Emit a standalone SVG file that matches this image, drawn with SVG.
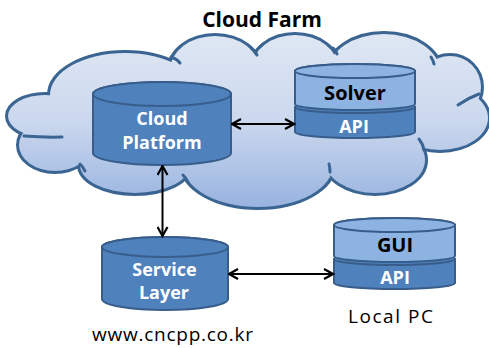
<svg xmlns="http://www.w3.org/2000/svg" width="489" height="348" viewBox="0 0 489 348">
  <defs>
    <linearGradient id="cloudFill" gradientUnits="userSpaceOnUse" x1="0" y1="33" x2="0" y2="208">
      <stop offset="0" stop-color="#dfe7f3"/>
      <stop offset="0.5" stop-color="#cbd8ee"/>
      <stop offset="1" stop-color="#98b3df"/>
    </linearGradient>
    <marker id="arrow" viewBox="0 0 12 12" refX="10.5" refY="6" markerWidth="12" markerHeight="12" markerUnits="userSpaceOnUse" orient="auto-start-reverse">
      <path d="M1.5,1 L10.5,6 L1.5,11" fill="none" stroke="#000" stroke-width="2.2" stroke-linejoin="miter"/>
    </marker>
    <!-- lobes of the cloud outline -->
    <g id="lobes">
      <ellipse cx="125" cy="95" rx="75" ry="42"/>
      <ellipse cx="215" cy="70" rx="45" ry="34"/>
      <ellipse cx="295" cy="68" rx="43" ry="33"/>
      <ellipse cx="384" cy="72" rx="56" ry="38"/>
      <ellipse cx="450" cy="87" rx="31" ry="31"/>
      <ellipse cx="440" cy="118" rx="48" ry="32"/>
      <ellipse cx="375" cy="160" rx="50" ry="33"/>
      <ellipse cx="258" cy="165" rx="75" ry="42"/>
      <ellipse cx="135" cy="165" rx="55" ry="28"/>
      <ellipse cx="55" cy="145" rx="36" ry="26"/>
      <ellipse cx="45" cy="116" rx="37" ry="21"/>
      <ellipse cx="250" cy="118" rx="200" ry="60"/>
    </g>
  </defs>
  <style>
    .cyl { fill: #4f81bd; stroke: #385d8a; stroke-width: 2; }
    .cyl-light { fill: #8db3e2; stroke: #385d8a; stroke-width: 2; }
    .tail { fill: none; stroke: #3a6491; stroke-width: 3; stroke-linecap: round; }
    .lbl { font-family: "Open Sans", "Liberation Sans", sans-serif; font-weight: bold; text-anchor: middle; }
    .white { fill: #ffffff; font-size: 18px; }
    .dark { fill: #000000; font-size: 20px; }
    .plain { font-family: "Open Sans", "Liberation Sans", sans-serif; fill: #000; font-size: 19px; }
    .conn { fill: none; stroke: #000; stroke-width: 2; marker-start: url(#arrow); marker-end: url(#arrow); }
  </style>

  <!-- cloud: stroked lobes, then filled lobes on top so only the outer edge remains -->
  <g id="cloud">
    <use href="#lobes" fill="none" stroke="#3a6491" stroke-width="6"/>
    <use href="#lobes" fill="url(#cloudFill)" stroke="none"/>
    <path class="tail" d="M24,136 Q44,137.5 62,137"/>
    <path class="tail" d="M171,57 Q177,59 180,63"/>
    <path class="tail" d="M252,49 Q255,51 257,55"/>
    <path class="tail" d="M333,48 Q336,50 337,54"/>
    <path class="tail" d="M431,57 Q433,60 434,64"/>
    <path class="tail" d="M479,94 Q468,98 458,105"/>
    <path class="tail" d="M419,139 Q423,144 424,150"/>
    <path class="tail" d="M329,164 Q330,168 330,172"/>
    <path class="tail" d="M183,175 Q186,178 188,182"/>
    <path class="tail" d="M80,164 Q83,167 85,171"/>
  </g>

  <text class="lbl" x="262" y="27" font-size="21" fill="#000">Cloud Farm</text>

  <g id="cloud-platform">
    <path class="cyl" d="M93,94 V153 A69,12 0 0 0 231,153 V94 A69,12 0 0 0 93,94 Z"/>
    <ellipse class="cyl" cx="162" cy="94" rx="69" ry="12"/>
    <text class="lbl white" x="162" y="125">Cloud</text>
    <text class="lbl white" x="162" y="149">Platform</text>
  </g>

  <g id="solver">
    <path class="cyl" d="M295,107 V132 A60,6 0 0 0 415,132 V107 A60,6 0 0 0 295,107 Z"/>
    <ellipse class="cyl" cx="355" cy="107" rx="60" ry="6"/>
    <path class="cyl-light" d="M295,71 V104 A60,6 0 0 0 415,104 V71 A60,7 0 0 0 295,71 Z"/>
    <ellipse class="cyl-light" cx="355" cy="71" rx="60" ry="7"/>
    <text class="lbl dark" x="355" y="100">Solver</text>
    <text class="lbl white" x="354" y="133" font-size="20">API</text>
  </g>

  <g id="service-layer">
    <path class="cyl" d="M102,247 V299 A63,11 0 0 0 228,299 V247 A63,10 0 0 0 102,247 Z"/>
    <ellipse class="cyl" cx="165" cy="247" rx="63" ry="10"/>
    <text class="lbl white" x="164.5" y="276">Service</text>
    <text class="lbl white" x="164" y="299">Layer</text>
  </g>

  <g id="gui">
    <path class="cyl" d="M334,259 V283 A60.5,6 0 0 0 455,283 V259 A60.5,6 0 0 0 334,259 Z"/>
    <ellipse class="cyl" cx="394.5" cy="259" rx="60.5" ry="6"/>
    <path class="cyl-light" d="M334,225 V256 A60.5,6 0 0 0 455,256 V225 A60.5,7 0 0 0 334,225 Z"/>
    <ellipse class="cyl-light" cx="394.5" cy="225" rx="60.5" ry="7"/>
    <text class="lbl dark" x="395" y="252">GUI</text>
    <text class="lbl white" x="395" y="284" font-size="20">API</text>
  </g>

  <g id="connectors">
    <path class="conn" d="M232,124 H294"/>
    <path class="conn" d="M162.5,166 V236"/>
    <path class="conn" d="M229,274 H333"/>
  </g>

  <text class="plain" x="348" y="323" textLength="85" lengthAdjust="spacing">Local PC</text>
  <text class="plain" x="92" y="341" textLength="161" lengthAdjust="spacing">www.cncpp.co.kr</text>
</svg>
